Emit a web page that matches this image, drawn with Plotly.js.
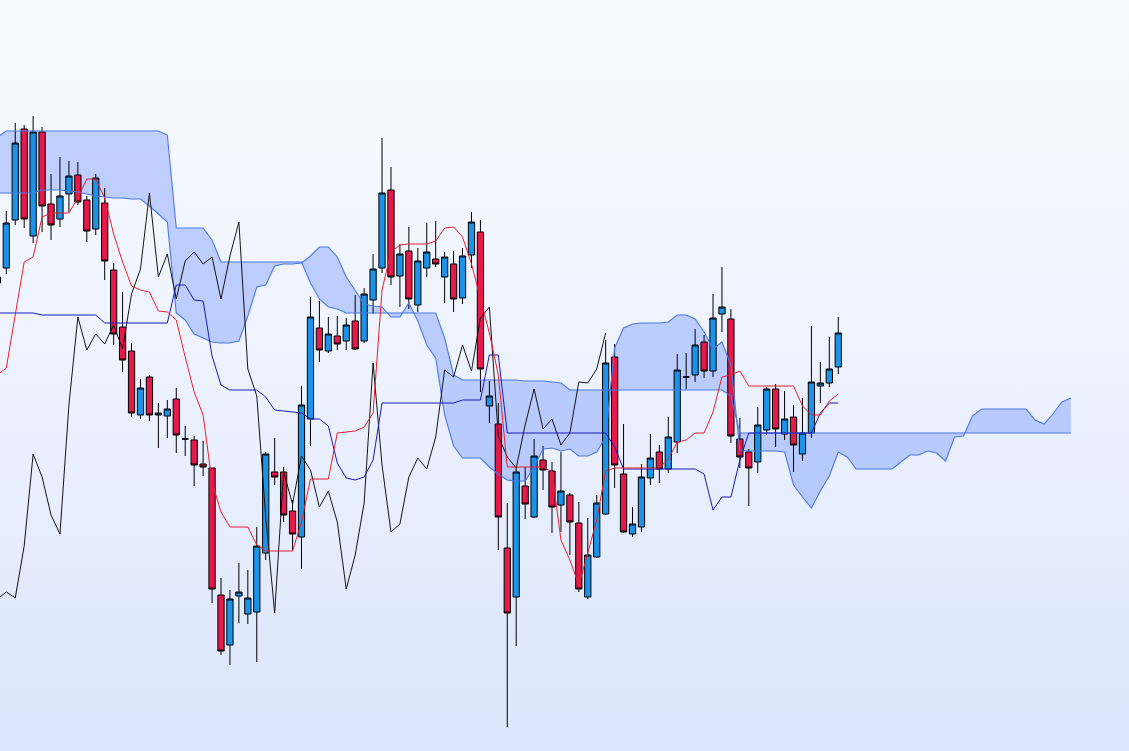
<!DOCTYPE html>
<html>
<head>
<meta charset="utf-8">
<script src="https://cdn.plot.ly/plotly-3.0.1.min.js"></script>
<style>
html,body{margin:0;padding:0;width:1129px;height:751px;overflow:hidden;
background:linear-gradient(to bottom,#f8faff 0%,#eef3fe 45%,#dbe5fc 100%);}
#chart{width:1129px;height:751px;}
</style>
</head>
<body>
<div id="chart"></div>
<script>
// ---- data (price units; no axis shown in the original); candles for period index -1 .. 93 ----
const open = [723,732,780,871,764,868,796,781,806,825,800,
771,797,730,673,649,585,623,585,584,601,
561,560,536,532,405,355,404,386,388,447,
528,528,489,463,581,672,649,664,659,679,
659,700,732,810,724,749,695,732,741,723,
736,702,745,768,594,576,452,403,514,483,
540,529,495,505,477,403,443,486,643,526,
466,473,522,548,531,558,623,625,658,629,
686,681,561,548,538,570,611,566,583,546,
567,614,617,633];
const high = [726,789,877,875,884,873,826,843,839,838,804,
826,812,737,708,657,621,625,597,600,612,
574,564,559,532,422,410,437,430,473,548,
562,533,500,614,703,699,683,684,682,705,
712,746,862,833,756,773,752,777,779,748,
749,752,788,780,619,597,497,533,533,561,
554,538,548,507,498,482,505,660,656,576,
493,536,566,555,583,646,647,671,665,706,
733,691,582,551,593,613,616,609,595,602,
674,638,663,683];
const low = [712,726,775,772,757,768,760,773,788,795,758,
765,720,655,628,583,581,579,552,562,547,
544,514,524,397,345,335,377,376,338,440,
515,478,450,431,554,638,647,650,650,650,
657,686,727,715,693,691,688,723,733,697,
688,696,732,608,577,450,273,354,481,482,
510,467,468,445,408,401,442,485,512,467,
463,468,515,517,527,547,611,618,622,623,
668,557,532,494,527,565,553,560,528,539,
562,597,613,626];
const close = [717,777,857,781,868,794,775,804,824,798,769,
822,739,666,640,587,612,585,587,591,565,
561,535,533,411,349,401,408,402,454,546,
523,485,466,595,683,650,666,656,675,651,
706,731,807,723,746,701,739,748,736,743,
701,744,778,631,604,483,387,528,496,544,
530,493,509,478,411,445,497,637,535,468,
476,523,542,531,563,630,623,655,629,682,
693,564,543,532,575,611,571,581,555,567,
618,617,631,667];

// conversion line (period index -1 .. 93)
const tenkan = [625,632,685,738,743,783,787,787,787,802,821,
821,802,766,738,714,710,708,689,688,680,
643,608,585,518,488,473,473,473,455,449,
449,449,449,478,521,521,521,567,568,569,
573,587,710,748,755,756,756,756,759,772,
773,763,736,700,667,625,533,533,533,533,
533,528,460,440,415,447,480,529,532,532,
532,532,532,532,541,558,560,567,567,588,
623,625,629,614,614,614,614,614,614,594,
585,585,599,606];
// base line (period index -1 .. 93)
const kijun = [687,687,687,687,687,685,685,685,685,685,685,
685,677,677,677,677,677,677,677,677,715,
715,700,699,644,615,610,610,610,610,603,
590,589,588,587,581,581,574,537,522,520,
523,540,597,597,597,597,597,597,597,597,
597,600,600,600,645,645,567,567,567,567,
567,567,567,567,567,567,567,567,553,531,
531,531,531,531,531,531,531,531,526,490,
503,503,540,567,567,567,567,567,567,567,
567,587,597,597];
// leading spans (period index -1 .. 119, already shifted forward)
const spanA = [807,807,807,807,807,810,810,810,809,808,806,
804,803,802,802,801,801,794,786,778,687,
680,666,662,658,657,657,659,684,713,715,
734,736,736,737,744,753,753,743,723,709,
696,694,693,683,683,697,679,655,642,585,
554,542,542,542,533,526,520,519,519,533,
551,552,549,551,544,544,548,563,652,672,
676,677,677,677,678,685,685,681,668,651,
658,635,550,549,549,549,549,548,515,503,
492,509,524,548,543,531,531,531,531,531,
538,545,545,549,547,539,563,564,584,591,
591,591,591,591,591,580,576,586,598,602];
const spanB = [863,869,869,869,869,869,869,869,869,869,869,
869,869,869,869,869,869,869,869,865,772,
772,772,772,760,738,738,738,738,738,738,
738,738,738,738,717,701,693,691,687,687,
687,687,687,687,687,687,687,687,687,662,
625,620,620,620,620,620,620,620,619,619,
619,618,617,610,610,610,610,610,610,610,
610,610,610,610,610,610,610,610,610,610,
610,604,567,567,567,567,567,567,567,567,
567,567,567,567,567,567,567,567,567,567,
567,567,567,567,567,567,567,567,567,567,
567,567,567,567,567,567,567,567,567,567];

const SHIFT = 26;
// ---- positions (period index; first array entry is period -1) ----
const candleX = close.map((_, i) => i - 1);
const lineX = tenkan.map((_, i) => i - 1);
const cloudX = spanA.map((_, i) => i - 1);
const chikouX = close.map((_, i) => i - 1 - SHIFT);

// cloud area as a data-coordinate path placed below the candles
let cloudPath = 'M' + cloudX[0] + ',' + spanA[0];
for (let i = 1; i < cloudX.length; i++) cloudPath += ' L' + cloudX[i] + ',' + spanA[i];
for (let i = cloudX.length - 1; i >= 0; i--) cloudPath += ' L' + cloudX[i] + ',' + spanB[i];
cloudPath += ' Z';

const CLOUD_LINE = '#4b78e4';
const traces = [
  {x: candleX, open: open, high: high, low: low, close: close, type: 'candlestick',
   increasing: {line: {color: '#000000', width: 1}, fillcolor: '#1c93e8'},
   decreasing: {line: {color: '#000000', width: 1}, fillcolor: '#e6194b'},
   whiskerwidth: 0, hoverinfo: 'skip'},
  {x: cloudX, y: spanB, type: 'scatter', mode: 'lines', line: {width: 1.1, color: CLOUD_LINE}, hoverinfo: 'skip'},
  {x: cloudX, y: spanA, type: 'scatter', mode: 'lines', line: {width: 1.1, color: CLOUD_LINE}, hoverinfo: 'skip'},
  {x: chikouX, y: close, type: 'scatter', mode: 'lines', line: {width: 1, color: '#141414'}, hoverinfo: 'skip'},
  {x: lineX, y: kijun, type: 'scatter', mode: 'lines', line: {width: 1, color: '#1a1ab8'}, hoverinfo: 'skip'},
  {x: lineX, y: tenkan, type: 'scatter', mode: 'lines', line: {width: 1, color: '#e8202c'}, hoverinfo: 'skip'}
];

const layout = {
  width: 1129, height: 751,
  margin: {l: 0, r: 0, t: 0, b: 0, pad: 0},
  paper_bgcolor: 'rgba(0,0,0,0)', plot_bgcolor: 'rgba(0,0,0,0)',
  showlegend: false, hovermode: false,
  boxgap: 0.3, boxgroupgap: 0,
  xaxis: {range: [-0.704, 125.5], visible: false, showgrid: false, zeroline: false,
          rangeslider: {visible: false}, fixedrange: true},
  yaxis: {range: [249, 1000], visible: false, showgrid: false, zeroline: false, fixedrange: true},
  shapes: [{type: 'path', xref: 'x', yref: 'y', path: cloudPath, layer: 'below',
            fillcolor: 'rgba(96,136,255,0.36)', line: {width: 0}}]
};

Plotly.newPlot('chart', traces, layout, {displayModeBar: false, staticPlot: true});
</script>
</body>
</html>
